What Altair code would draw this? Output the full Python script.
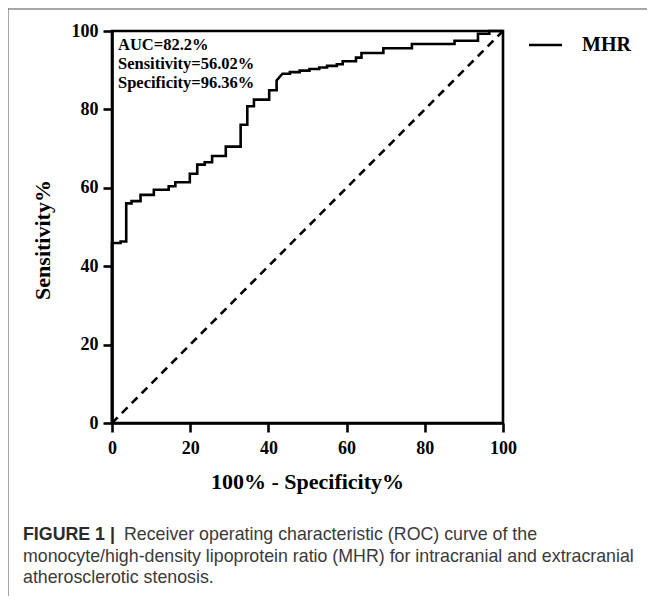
import altair as alt
import pandas as pd

# ROC curve (100% - Specificity%, Sensitivity%)
fpr = [0, 0, 2.2, 2.2, 3.64, 3.64, 5.0, 5.0, 7.3, 7.3, 10.7, 10.7, 14.5, 14.5,
       16.2, 16.2, 19.9, 19.9, 21.8, 21.8, 23.7, 23.7, 25.6, 25.6, 29.1, 29.1,
       32.9, 32.9, 34.6, 34.6, 36.3, 36.3, 40.2, 40.2, 42.1, 42.1, 43.6, 45.5,
       45.5, 48.0, 48.0, 50.5, 50.5, 53.0, 53.0, 55.0, 55.0, 57.5, 57.5, 59.0,
       59.0, 62.4, 62.4, 63.8, 63.8, 69.4, 69.4, 76.7, 76.7, 87.6, 87.6, 93.6,
       93.6, 96.5, 96.5, 100]
sens = [0, 45.9, 45.9, 46.3, 46.3, 56.02, 56.02, 56.6, 56.6, 58.2, 58.2, 59.5,
        59.5, 60.4, 60.4, 61.4, 61.4, 63.6, 63.6, 65.9, 65.9, 66.5, 66.5, 68.1,
        68.1, 70.5, 70.5, 76.1, 76.1, 80.8, 80.8, 82.5, 82.5, 84.9, 84.9, 87.4,
        89.1, 89.1, 89.5, 89.5, 89.9, 89.9, 90.3, 90.3, 90.7, 90.7, 91.1, 91.1,
        91.5, 91.5, 92.3, 92.3, 93.2, 93.2, 94.4, 94.4, 95.6, 95.6, 96.7, 96.7,
        97.5, 97.5, 99.3, 99.3, 100, 100]
ref_x = [0, 100]
ref_y = [0, 100]
ticks = [0, 20, 40, 60, 80, 100]
stats = ["AUC=82.2%", "Sensitivity=56.02%", "Specificity=96.36%"]
series_name = "MHR"
x_title_text = "100% - Specificity%"
y_title_text = "Sensitivity%"
caption_bold = "FIGURE 1 |"
caption_lines = [
    "Receiver operating characteristic (ROC) curve of the",
    "monocyte/high-density lipoprotein ratio (MHR) for intracranial and extracranial",
    "atherosclerotic stenosis.",
]

roc = pd.DataFrame({"fpr": fpr, "sens": sens, "i": range(len(fpr))})
ref = pd.DataFrame({"fpr": ref_x, "sens": ref_y})
one = pd.DataFrame({"a": [0]})

W, H = 391, 392
PL, PT = 104, 23
serif = "Liberation Serif"
sans = "Liberation Sans"

xs = alt.Scale(domain=[0, 100], nice=False)
ys = alt.Scale(domain=[0, 100], nice=False)

x_axis = alt.Axis(values=ticks, title=None, labelPadding=7, tickSize=9, labelFlush=False, grid=False)
y_axis = alt.Axis(values=ticks, title=None, labelPadding=5, tickSize=9, labelFlush=False, grid=False)

curve = alt.Chart(roc).mark_line(color="black", strokeWidth=2.6, strokeJoin="miter").encode(
    x=alt.X("fpr:Q", scale=xs, axis=x_axis),
    y=alt.Y("sens:Q", scale=ys, axis=y_axis),
    order="i:Q",
)

diag = alt.Chart(ref).mark_line(color="black", strokeWidth=2.6, strokeDash=[8, 6]).encode(
    x=alt.X("fpr:Q", scale=xs, axis=x_axis), y=alt.Y("sens:Q", scale=ys, axis=y_axis)
)


def label(text, x, y, font, size, weight="normal", align="left", baseline="middle",
          color="black", angle=0):
    kw = dict(text=text, font=font, fontSize=size, fontWeight=weight, align=align,
              baseline=baseline, color=color)
    if angle:
        kw["angle"] = angle
    return alt.Chart(one).mark_text(**kw).encode(x=alt.value(x), y=alt.value(y))


layers = [
    alt.Chart(one).mark_rule(color="#8a8a8a", strokeWidth=1.5).encode(
        x=alt.value(-104), y=alt.value(-23), y2=alt.value(H + 173)),
    alt.Chart(one).mark_rule(color="#8a8a8a", strokeWidth=1.5).encode(
        x=alt.value(-104), x2=alt.value(W + 144), y=alt.value(-22)),
    diag, curve,
]
for k, t in enumerate(stats):
    layers.append(label(t, 6, 14 + 19 * k, serif, 16.5, "bold"))
layers.append(alt.Chart(one).mark_rule(color="black", strokeWidth=2.6).encode(
    x=alt.value(417), x2=alt.value(450), y=alt.value(14)))
layers.append(label(series_name, 470, 14, serif, 20, "bold"))
layers.append(label(x_title_text, W / 2, 482 - 31, serif, 22, "bold", align="center"))
layers.append(label(y_title_text, 43 - 112, 240 - 31, serif, 22, "bold", align="center", angle=270))
layers.append(label(caption_bold, 23 - 112, 540 - 31, sans, 17.8, "bold", baseline="alphabetic",
                    color="#2b2b2b"))
cap_x = [124 - 112, 23 - 112, 23 - 112]
cap_y = [540 - 31, 561.5 - 31, 583 - 31]
for t, cx, cy in zip(caption_lines, cap_x, cap_y):
    layers.append(label(t, cx, cy, sans, 17.8, baseline="alphabetic", color="#3a3a3a"))

chart = alt.layer(*layers).properties(
    width=W, height=H,
    background="white",
    autosize=alt.AutoSizeParams(type="none"),
    padding={"left": PL, "top": PT, "right": 144, "bottom": 173},
).configure_view(
    stroke="black", strokeWidth=2.6
).configure_axis(
    domainColor="black", domainWidth=2.6, tickColor="black", tickWidth=2.6,
    labelFont=serif, labelFontWeight="bold", labelFontSize=18, labelColor="black", grid=False,
)

chart.save("out.html", embed_options={"renderer": "svg", "actions": False})
